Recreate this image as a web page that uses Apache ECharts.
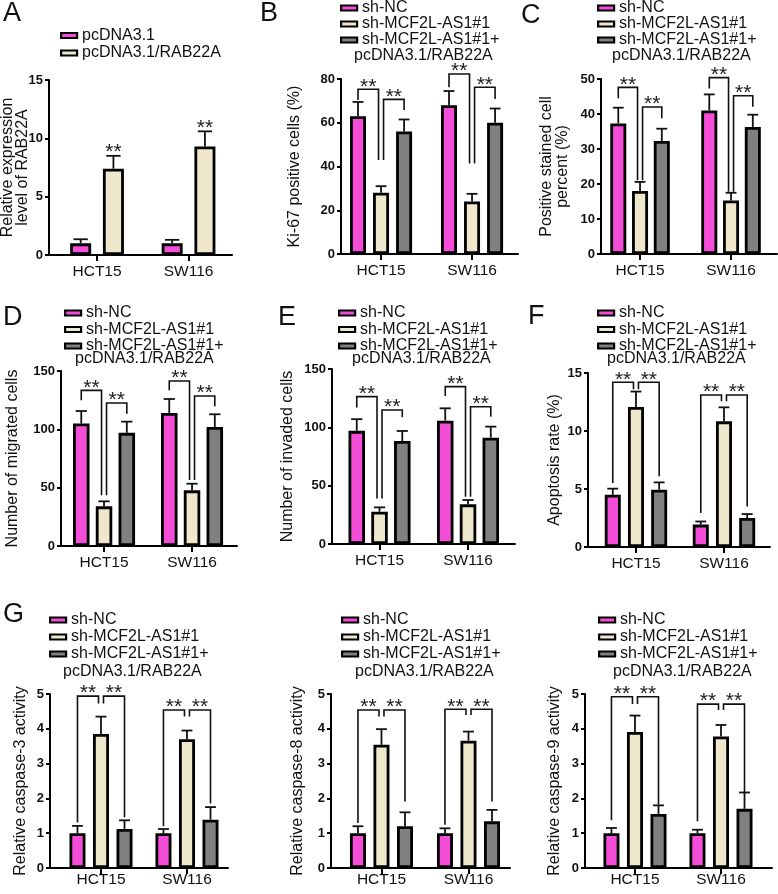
<!DOCTYPE html>
<html><head><meta charset="utf-8">
<script src="https://cdn.jsdelivr.net/npm/echarts@6/dist/echarts.min.js"></script>
<style>html,body{margin:0;padding:0;background:#fff}#chart{width:778px;height:894px}</style>
</head><body><div id="chart"></div>
<script>
// ---------- data ----------
const cellLines = ['HCT15', 'SW116'];
const groupsA = ['pcDNA3.1', 'pcDNA3.1/RAB22A'];
const groupsSh = ['sh-NC', 'sh-MCF2L-AS1#1', 'sh-MCF2L-AS1#1+'];
const shNote = 'pcDNA3.1/RAB22A';

// A
const rabTicks = [0, 5, 10, 15];
const rabMean = [[1.0, 1.0], [7.4, 9.3]];
const rabErrTop = [[1.35, 1.3], [8.5, 10.6]];
const rabStars = [[0, 1, '**'], [1, 1, '**']];
// B
const ki67Ticks = [0, 20, 40, 60, 80];
const ki67Mean = [[63, 68], [28, 24], [56, 60]];
const ki67ErrTop = [[69.5, 74.5], [31, 27.5], [61.5, 66.5]];
const ki67Sig = [[0, 0, 1, 75.3, 70.4, 43, '**'], [0, 1, 2, 70.7, 43, 65.8, '**'],
                 [1, 0, 1, 82.3, 76.2, 41.4, '**'], [1, 1, 2, 76.2, 41.4, 70.9, '**']];
// C
const stainedTicks = [0, 10, 20, 30, 40, 50];
const stainedMean = [[37.3, 41], [18, 15.3], [32.3, 36.3]];
const stainedErrTop = [[41.8, 45.6], [20.6, 17.5], [35.8, 39.8]];
const stainedSig = [[0, 0, 1, 47.6, 44.5, 21.1, '**'], [0, 1, 2, 42, 21.1, 38.8, '**'],
                    [1, 0, 1, 50.4, 47.3, 17.8, '**'], [1, 1, 2, 45.2, 17.8, 42.1, '**']];
// D
const migratedTicks = [0, 50, 100, 150];
const migratedMean = [[105, 114], [34, 47.7], [97, 102]];
const migratedErrTop = [[115.7, 126], [38.3, 53.4], [106.6, 112.9]];
const migratedSig = [[0, 0, 1, 133.4, 124.9, 43.4, '**'], [0, 1, 2, 122.6, 43.4, 113.4, '**'],
                     [1, 0, 1, 141.4, 133.4, 56.5, '**'], [1, 1, 2, 128.6, 56.5, 119.7, '**']];
// E
const invadedTicks = [0, 50, 100, 150];
const invadedMean = [[97, 105.7], [27.7, 34], [88.3, 91.1]];
const invadedErrTop = [[107, 116.3], [31.4, 37.7], [96.9, 100.6]];
const invadedSig = [[0, 0, 1, 126.3, 117.1, 39.1, '**'], [0, 1, 2, 114.9, 39.1, 108.6, '**'],
                    [1, 0, 1, 134.9, 126.9, 40.6, '**'], [1, 1, 2, 117.7, 40.6, 109.1, '**']];
// F
const apoptosisTicks = [0, 5, 10, 15];
const apoptosisMean = [[4.5, 1.93], [12.07, 10.83], [4.94, 2.5]];
const apoptosisErrTop = [[5.03, 2.2], [13.4, 12.04], [5.57, 2.84]];
const apoptosisSig = [[0, 0, 1, 14.2, 5.52, 13.6, '**'], [0, 1, 2, 14.2, 13.6, 6.09, '**'],
                      [1, 0, 1, 13.1, 2.93, 12.56, '**'], [1, 1, 2, 13.1, 12.56, 3.5, '**']];
// G
const caspTicks = [0, 1, 2, 3, 4, 5];
const casp3Mean = [[1.0, 1.0], [3.85, 3.7], [1.12, 1.39]];
const casp3ErrTop = [[1.21, 1.12], [4.35, 3.95], [1.37, 1.75]];
const casp3Sig = [[0, 0, 1, 4.94, 1.31, 4.73, '**'], [0, 1, 2, 4.94, 4.73, 1.46, '**'],
                  [1, 0, 1, 4.54, 1.2, 4.35, '**'], [1, 1, 2, 4.54, 4.35, 1.85, '**']];
const casp8Mean = [[1.0, 1.0], [3.54, 3.66], [1.2, 1.34]];
const casp8ErrTop = [[1.2, 1.14], [3.99, 3.92], [1.6, 1.67]];
const casp8Sig = [[0, 0, 1, 4.54, 1.29, 4.35, '**'], [0, 1, 2, 4.54, 4.35, 1.91, '**'],
                  [1, 0, 1, 4.56, 1.24, 4.4, '**'], [1, 1, 2, 4.56, 4.4, 1.91, '**']];
const casp9Mean = [[1.0, 1.0], [3.91, 3.78], [1.55, 1.70]];
const casp9ErrTop = [[1.15, 1.1], [4.38, 4.11], [1.8, 2.17]];
const casp9Sig = [[0, 0, 1, 4.92, 1.37, 4.71, '**'], [0, 1, 2, 4.92, 4.71, 1.82, '**'],
                  [1, 0, 1, 4.71, 1.34, 4.54, '**'], [1, 1, 2, 4.71, 4.54, 2.15, '**']];

// ---------- styling / layout ----------
const FONT = '"Liberation Sans", Arial, Helvetica, sans-serif';
const COLORS = ['#F44ED8', '#EEE7CB', '#808080'];
const INK = '#111';

const panels = [
  { letter: 'A', groups: groupsA, mean: rabMean, errTop: rabErrTop, ticks: rabTicks, stars: rabStars,
    yName: 'Relative expression\nlevel of RAB22A',
    L: { grid: [49, 80, 183, 175], x: [-0.525, 1.475], bar: [21, 0.56], nameGap: 19, nameLH: 15, legend: [60, 27.5, 1.5], note: null, letter: [3, 0], m: 9 } },
  { letter: 'B', groups: groupsSh, mean: ki67Mean, errTop: ki67ErrTop, ticks: ki67Ticks, sig: ki67Sig,
    yName: 'Ki-67 positive cells (%)',
    L: { grid: [341, 79, 177, 175], x: [-0.44, 1.505], bar: [16, 0.44], nameGap: 38, legend: [340, 0, 0], note: [354, 56], letter: [260, 0], m: 9 } },
  { letter: 'C', groups: groupsSh, mean: stainedMean, errTop: stainedErrTop, ticks: stainedTicks, sig: stainedSig,
    yName: 'Positive stained cell\npercent (%)',
    L: { grid: [601, 79, 176, 175], x: [-0.429, 1.505], bar: [16, 0.36], nameGap: 30, nameLH: 16, legend: [597, 0, 0], note: [612, 56], letter: [521, 2], m: 9 } },
  { letter: 'D', groups: groupsSh, mean: migratedMean, errTop: migratedErrTop, ticks: migratedTicks, sig: migratedSig,
    yName: 'Number of migrated cells',
    L: { grid: [61, 371, 176, 175], x: [-0.489, 1.511], bar: [16.5, 0.38], nameGap: 40, legend: [64, 305, 0.5], note: [75, 359], letter: [3, 304], m: 9 } },
  { letter: 'E', groups: groupsSh, mean: invadedMean, errTop: invadedErrTop, ticks: invadedTicks, sig: invadedSig,
    yName: 'Number of invaded cells',
    L: { grid: [332, 369, 183, 175], x: [-0.537, 1.531], bar: [16.5, 0.38], nameGap: 36, legend: [338, 305, 0.5], note: [352, 359], letter: [278, 304], m: 9 } },
  { letter: 'F', groups: groupsSh, mean: apoptosisMean, errTop: apoptosisErrTop, ticks: apoptosisTicks, sig: apoptosisSig,
    yName: 'Apoptosis rate (%)',
    L: { grid: [588, 373, 182, 174], x: [-0.545, 1.523], bar: [16, 0.45], nameGap: 25, legend: [597, 305, 0.5], note: [607, 359], letter: [528, 303], m: 9 } },
  { letter: 'G', groups: groupsSh, mean: casp3Mean, errTop: casp3ErrTop, ticks: caspTicks, sig: casp3Sig,
    yName: 'Relative caspase-3 activity',
    L: { grid: [50, 694, 178, 174], x: [-0.593, 1.477], bar: [16, 0.47], nameGap: 21, legend: [49, 612, 1], note: [63, 672], letter: [3, 601], m: 4 } },
  { letter: null, groups: groupsSh, mean: casp8Mean, errTop: casp8ErrTop, ticks: caspTicks, sig: casp8Sig,
    yName: 'Relative caspase-8 activity',
    L: { grid: [331, 694, 179, 174], x: [-0.580, 1.477], bar: [16, 0.47], nameGap: 25, legend: [341, 612, 1], note: [355, 672], letter: null, m: 4 } },
  { letter: null, groups: groupsSh, mean: casp9Mean, errTop: casp9ErrTop, ticks: caspTicks, sig: casp9Sig,
    yName: 'Relative caspase-9 activity',
    L: { grid: [585, 694, 187, 174], x: [-0.581, 1.593], bar: [16, 0.47], nameGap: 22, legend: [598, 612, 1], note: [613, 672], letter: null, m: 4 } }
];

function offsetOf(L, n, k) { return (k - (n - 1) / 2) * L.bar[0] * (1 + L.bar[1]); }

const option = { animation: false, textStyle: { fontFamily: FONT }, grid: [], xAxis: [], yAxis: [], legend: [], series: [], graphic: [] };

panels.forEach((p, i) => {
  const L = p.L, n = p.groups.length;
  option.grid.push({ left: L.grid[0], top: L.grid[1], width: L.grid[2], height: L.grid[3], containLabel: false, outerBoundsMode: 'none' });
  option.xAxis.push({
    type: 'value', gridIndex: i, min: L.x[0], max: L.x[1], splitLine: { show: false },
    axisLine: { show: true, onZero: false, lineStyle: { color: '#000', width: 2 } },
    axisTick: { show: true, customValues: [0, 1], length: 6, lineStyle: { color: '#000', width: 2 } },
    axisLabel: { customValues: [0, 1], formatter: v => cellLines[Math.round(v)], fontSize: 15.5, color: INK, margin: L.m, fontFamily: FONT }
  });
  option.yAxis.push({
    type: 'value', gridIndex: i, min: p.ticks[0], max: p.ticks[p.ticks.length - 1], interval: p.ticks[1] - p.ticks[0],
    splitLine: { show: false },
    axisLine: { show: true, onZero: false, lineStyle: { color: '#000', width: 2 } },
    axisTick: { show: true, length: 4, lineStyle: { color: '#000', width: 2 } },
    axisLabel: { fontSize: 13, fontWeight: 'bold', color: INK, margin: 6, fontFamily: FONT },
    name: p.yName, nameLocation: 'middle', nameGap: L.nameGap, nameMoveOverlap: false,
    nameTextStyle: { fontSize: 16, color: INK, lineHeight: L.nameLH || 16, fontFamily: FONT }
  });
  p.groups.forEach((g, k) => {
    option.series.push({
      type: 'bar', name: g, xAxisIndex: i, yAxisIndex: i, barWidth: L.bar[0], barGap: (L.bar[1] * 100) + '%',
      data: cellLines.map((c, j) => [j, p.mean[k][j]]),
      itemStyle: { color: COLORS[k], borderColor: '#000', borderWidth: 2.8 },
      emphasis: { disabled: true }, z: 2
    });
  });
  // error bars (mean -> upper SD)
  const errData = [];
  p.groups.forEach((g, k) => cellLines.forEach((c, j) => errData.push([j, k, p.mean[k][j], p.errTop[k][j]])));
  option.series.push({
    type: 'custom', xAxisIndex: i, yAxisIndex: i, z: 3, silent: true, encode: { x: 0, y: 3 }, data: errData,
    renderItem: (params, api) => {
      const j = api.value(0), k = api.value(1);
      const b = api.coord([j, api.value(2)]), t = api.coord([j, api.value(3)]);
      const cx = b[0] + offsetOf(L, n, k), hw = L.bar[0] * 0.34;
      return { type: 'group', children: [
        { type: 'line', shape: { x1: cx, y1: b[1], x2: cx, y2: t[1] }, style: { stroke: INK, lineWidth: 1.8 } },
        { type: 'line', shape: { x1: cx - hw, y1: t[1], x2: cx + hw, y2: t[1] }, style: { stroke: INK, lineWidth: 1.8 } }
      ] };
    }
  });
  if (p.sig) {
    option.series.push({
      type: 'custom', xAxisIndex: i, yAxisIndex: i, z: 4, silent: true, encode: { x: 0, y: 3 },
      data: p.sig.map(s => s.slice(0, 6)),
      renderItem: (params, api) => {
        const s = p.sig[params.dataIndex];
        const j = s[0], a = s[1], c = s[2];
        const T = api.coord([j, s[3]]);
        const d = 2.5;
        const xl = T[0] + offsetOf(L, n, a) + (a === 1 ? d : 0);
        const xr = T[0] + offsetOf(L, n, c) - (c === 1 ? d : 0);
        const yl = api.coord([j, s[4]])[1], yr = api.coord([j, s[5]])[1];
        return { type: 'group', children: [
          { type: 'polyline', shape: { points: [[xl, yl], [xl, T[1]], [xr, T[1]], [xr, yr]] }, style: { stroke: INK, lineWidth: 1.6, fill: 'none' } },
          { type: 'text', x: (xl + xr) / 2, y: T[1] - 2.5, style: { text: s[6], fill: '#222', font: '21px ' + FONT, align: 'center', verticalAlign: 'middle' } }
        ] };
      }
    });
  }
  if (p.stars) {
    option.series.push({
      type: 'custom', xAxisIndex: i, yAxisIndex: i, z: 4, silent: true, encode: { x: 0, y: 2 },
      data: p.stars.map(s => [s[0], s[1], p.errTop[s[1]][s[0]]]),
      renderItem: (params, api) => {
        const s = p.stars[params.dataIndex];
        const P = api.coord([api.value(0), api.value(2)]);
        return { type: 'text', x: P[0] + offsetOf(L, n, api.value(1)), y: P[1] - 3.5,
          style: { text: s[2], fill: '#222', font: '21px ' + FONT, align: 'center', verticalAlign: 'middle' } };
      }
    });
  }
  option.legend.push({
    orient: 'vertical', left: L.legend[0], top: L.legend[1], itemGap: L.legend[2], padding: 0,
    itemWidth: 16, itemHeight: 5, icon: 'rect', selectedMode: false,
    textStyle: { fontSize: 16, lineHeight: 15, color: INK, fontFamily: FONT },
    data: p.groups.map((g, k) => ({ name: g, itemStyle: { color: COLORS[k], borderColor: '#000', borderWidth: 2.2 } }))
  });
  if (p.letter) option.graphic.push({ type: 'text', x: L.letter[0], y: L.letter[1], style: { text: p.letter, font: '27px ' + FONT, fill: INK, verticalAlign: 'top' } });
  if (L.note) option.graphic.push({ type: 'text', x: L.note[0], y: L.note[1], style: { text: shNote, font: '16px ' + FONT, fill: INK, verticalAlign: 'middle' } });
});

const chart = echarts.init(document.getElementById('chart'), null, { renderer: 'canvas' });
chart.setOption(option);
</script></body></html>
